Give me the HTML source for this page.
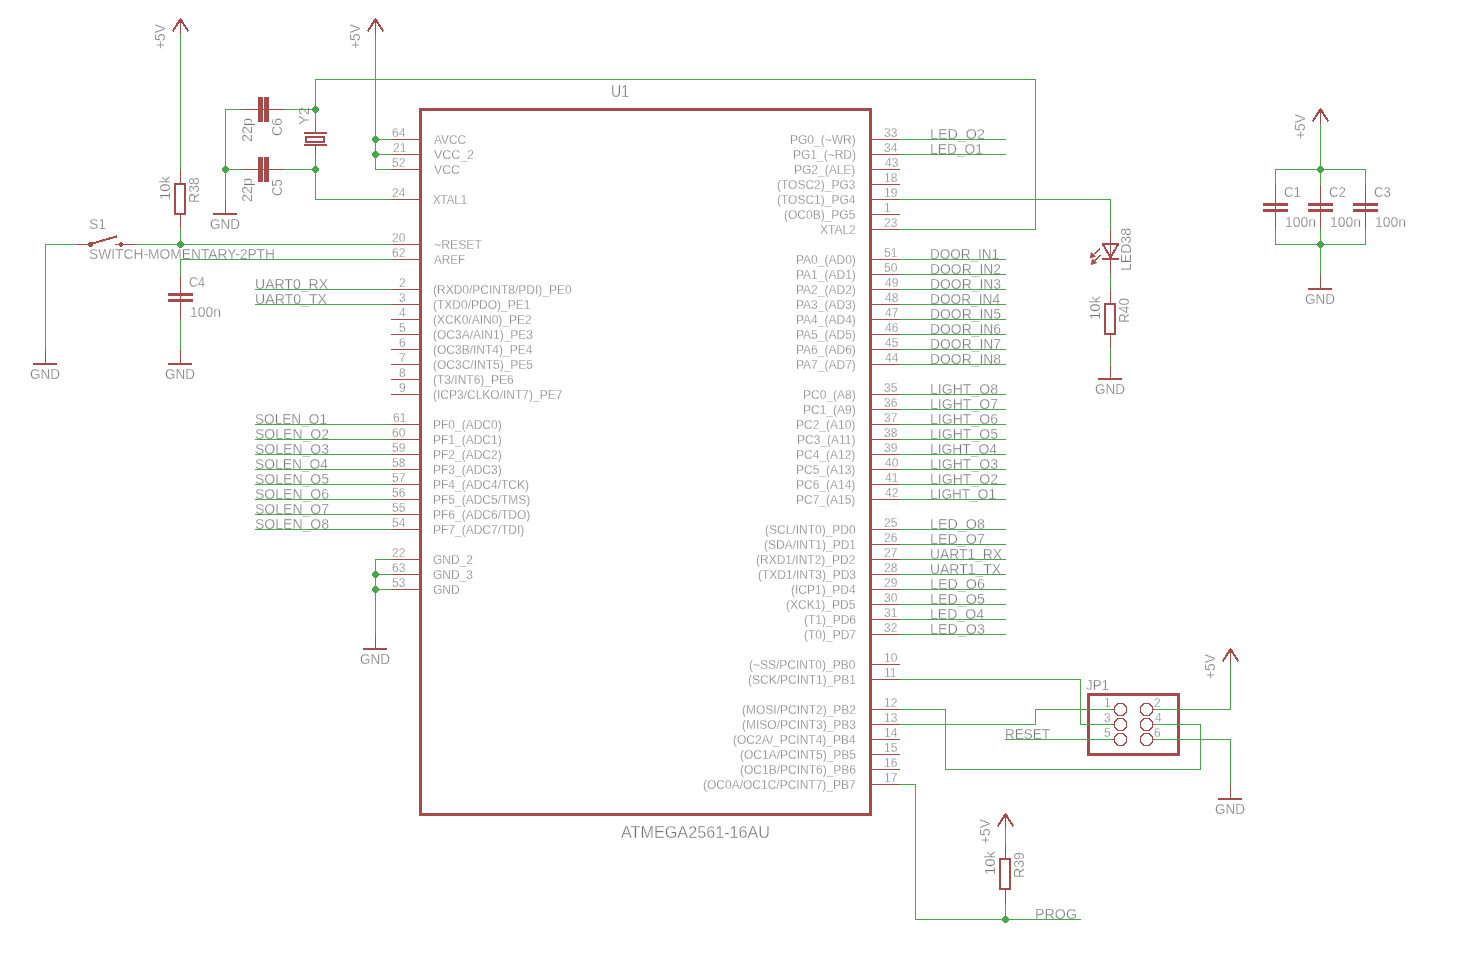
<!DOCTYPE html>
<html><head><meta charset="utf-8"><style>html,body{margin:0;padding:0;background:#fff;width:1474px;height:968px;overflow:hidden}svg{display:block;will-change:transform}text{font-family:"Liberation Sans",sans-serif}</style></head>
<body><svg width="1474" height="968" viewBox="0 0 1474 968"><rect width="1474" height="968" fill="#fff"/>
<g fill="#737373" stroke="#fff" stroke-width="0.3">
<text x="392" y="137" font-size="12">64</text>
<text x="434" y="144" font-size="12" textLength="32" lengthAdjust="spacingAndGlyphs">AVCC</text>
<text x="393" y="152" font-size="12">21</text>
<text x="434" y="159" font-size="12" textLength="40" lengthAdjust="spacingAndGlyphs">VCC_2</text>
<text x="392" y="167" font-size="12">52</text>
<text x="434" y="174" font-size="12" textLength="26" lengthAdjust="spacingAndGlyphs">VCC</text>
<text x="392" y="197" font-size="12">24</text>
<text x="433" y="204" font-size="12" textLength="34" lengthAdjust="spacingAndGlyphs">XTAL1</text>
<text x="392" y="242" font-size="12">20</text>
<text x="434" y="249" font-size="12" textLength="48" lengthAdjust="spacingAndGlyphs">~RESET</text>
<text x="392" y="257" font-size="12">62</text>
<text x="434" y="264" font-size="12" textLength="31" lengthAdjust="spacingAndGlyphs">AREF</text>
<text x="399" y="287" font-size="12">2</text>
<text x="433" y="294" font-size="12">(RXD0/PCINT8/PDI)_PE0</text>
<text x="399" y="302" font-size="12">3</text>
<text x="433" y="309" font-size="12">(TXD0/PDO)_PE1</text>
<text x="399" y="317" font-size="12">4</text>
<text x="433" y="324" font-size="12">(XCK0/AIN0)_PE2</text>
<text x="399" y="332" font-size="12">5</text>
<text x="433" y="339" font-size="12">(OC3A/AIN1)_PE3</text>
<text x="399" y="347" font-size="12">6</text>
<text x="433" y="354" font-size="12">(OC3B/INT4)_PE4</text>
<text x="399" y="362" font-size="12">7</text>
<text x="433" y="369" font-size="12">(OC3C/INT5)_PE5</text>
<text x="399" y="377" font-size="12">8</text>
<text x="433" y="384" font-size="12">(T3/INT6)_PE6</text>
<text x="399" y="392" font-size="12">9</text>
<text x="433" y="399" font-size="12">(ICP3/CLKO/INT7)_PE7</text>
<text x="393" y="422" font-size="12">61</text>
<text x="433" y="429" font-size="12">PF0_(ADC0)</text>
<text x="392" y="437" font-size="12">60</text>
<text x="433" y="444" font-size="12">PF1_(ADC1)</text>
<text x="392" y="452" font-size="12">59</text>
<text x="433" y="459" font-size="12">PF2_(ADC2)</text>
<text x="392" y="467" font-size="12">58</text>
<text x="433" y="474" font-size="12">PF3_(ADC3)</text>
<text x="392" y="482" font-size="12">57</text>
<text x="433" y="489" font-size="12">PF4_(ADC4/TCK)</text>
<text x="392" y="497" font-size="12">56</text>
<text x="433" y="504" font-size="12">PF5_(ADC5/TMS)</text>
<text x="392" y="512" font-size="12">55</text>
<text x="433" y="519" font-size="12">PF6_(ADC6/TDO)</text>
<text x="392" y="527" font-size="12">54</text>
<text x="433" y="534" font-size="12">PF7_(ADC7/TDI)</text>
<text x="392" y="557" font-size="12">22</text>
<text x="433" y="564" font-size="12">GND_2</text>
<text x="392" y="572" font-size="12">63</text>
<text x="433" y="579" font-size="12">GND_3</text>
<text x="392" y="587" font-size="12">53</text>
<text x="433" y="594" font-size="12">GND</text>
<text x="884" y="137" font-size="12">33</text>
<text x="790" y="144" font-size="12">PG0_(~WR)</text>
<text x="884" y="152" font-size="12">34</text>
<text x="793" y="159" font-size="12">PG1_(~RD)</text>
<text x="885" y="167" font-size="12">43</text>
<text x="794" y="174" font-size="12">PG2_(ALE)</text>
<text x="884" y="182" font-size="12">18</text>
<text x="777" y="189" font-size="12">(TOSC2)_PG3</text>
<text x="884" y="197" font-size="12">19</text>
<text x="777" y="204" font-size="12">(TOSC1)_PG4</text>
<text x="884" y="212" font-size="12">1</text>
<text x="784" y="219" font-size="12">(OC0B)_PG5</text>
<text x="884" y="227" font-size="12">23</text>
<text x="820" y="234" font-size="12">XTAL2</text>
<text x="884" y="257" font-size="12">51</text>
<text x="796" y="264" font-size="12">PA0_(AD0)</text>
<text x="884" y="272" font-size="12">50</text>
<text x="796" y="279" font-size="12">PA1_(AD1)</text>
<text x="885" y="287" font-size="12">49</text>
<text x="796" y="294" font-size="12">PA2_(AD2)</text>
<text x="885" y="302" font-size="12">48</text>
<text x="796" y="309" font-size="12">PA3_(AD3)</text>
<text x="885" y="317" font-size="12">47</text>
<text x="796" y="324" font-size="12">PA4_(AD4)</text>
<text x="885" y="332" font-size="12">46</text>
<text x="796" y="339" font-size="12">PA5_(AD5)</text>
<text x="885" y="347" font-size="12">45</text>
<text x="796" y="354" font-size="12">PA6_(AD6)</text>
<text x="885" y="362" font-size="12">44</text>
<text x="796" y="369" font-size="12">PA7_(AD7)</text>
<text x="884" y="392" font-size="12">35</text>
<text x="803" y="399" font-size="12">PC0_(A8)</text>
<text x="884" y="407" font-size="12">36</text>
<text x="803" y="414" font-size="12">PC1_(A9)</text>
<text x="884" y="422" font-size="12">37</text>
<text x="796" y="429" font-size="12">PC2_(A10)</text>
<text x="884" y="437" font-size="12">38</text>
<text x="797" y="444" font-size="12">PC3_(A11)</text>
<text x="884" y="452" font-size="12">39</text>
<text x="796" y="459" font-size="12">PC4_(A12)</text>
<text x="885" y="467" font-size="12">40</text>
<text x="796" y="474" font-size="12">PC5_(A13)</text>
<text x="885" y="482" font-size="12">41</text>
<text x="796" y="489" font-size="12">PC6_(A14)</text>
<text x="885" y="497" font-size="12">42</text>
<text x="796" y="504" font-size="12">PC7_(A15)</text>
<text x="884" y="527" font-size="12">25</text>
<text x="765" y="534" font-size="12">(SCL/INT0)_PD0</text>
<text x="884" y="542" font-size="12">26</text>
<text x="764" y="549" font-size="12">(SDA/INT1)_PD1</text>
<text x="884" y="557" font-size="12">27</text>
<text x="756" y="564" font-size="12">(RXD1/INT2)_PD2</text>
<text x="884" y="572" font-size="12">28</text>
<text x="758" y="579" font-size="12">(TXD1/INT3)_PD3</text>
<text x="884" y="587" font-size="12">29</text>
<text x="791" y="594" font-size="12">(ICP1)_PD4</text>
<text x="884" y="602" font-size="12">30</text>
<text x="786" y="609" font-size="12">(XCK1)_PD5</text>
<text x="884" y="617" font-size="12">31</text>
<text x="804" y="624" font-size="12">(T1)_PD6</text>
<text x="884" y="632" font-size="12">32</text>
<text x="804" y="639" font-size="12">(T0)_PD7</text>
<text x="884" y="662" font-size="12">10</text>
<text x="749" y="669" font-size="12">(~SS/PCINT0)_PB0</text>
<text x="884" y="677" font-size="12">11</text>
<text x="748" y="684" font-size="12">(SCK/PCINT1)_PB1</text>
<text x="884" y="707" font-size="12">12</text>
<text x="742" y="714" font-size="12">(MOSI/PCINT2)_PB2</text>
<text x="884" y="722" font-size="12">13</text>
<text x="742" y="729" font-size="12">(MISO/PCINT3)_PB3</text>
<text x="884" y="737" font-size="12">14</text>
<text x="733" y="744" font-size="12">(OC2A/_PCINT4)_PB4</text>
<text x="884" y="752" font-size="12">15</text>
<text x="740" y="759" font-size="12">(OC1A/PCINT5)_PB5</text>
<text x="884" y="767" font-size="12">16</text>
<text x="740" y="774" font-size="12">(OC1B/PCINT6)_PB6</text>
<text x="884" y="782" font-size="12">17</text>
<text x="703" y="789" font-size="12">(OC0A/OC1C/PCINT7)_PB7</text>
<text x="611" y="97" font-size="16" textLength="18" lengthAdjust="spacingAndGlyphs">U1</text>
<text x="621" y="838" font-size="16" textLength="149" lengthAdjust="spacingAndGlyphs">ATMEGA2561-16AU</text>
<text x="165" y="49" font-size="14" textLength="25" lengthAdjust="spacingAndGlyphs" transform="rotate(-90 165 49)">+5V</text>
<text x="360" y="49" font-size="14" textLength="25" lengthAdjust="spacingAndGlyphs" transform="rotate(-90 360 49)">+5V</text>
<text x="1305" y="139" font-size="14" textLength="25" lengthAdjust="spacingAndGlyphs" transform="rotate(-90 1305 139)">+5V</text>
<text x="1215" y="679" font-size="14" textLength="25" lengthAdjust="spacingAndGlyphs" transform="rotate(-90 1215 679)">+5V</text>
<text x="990" y="844" font-size="14" textLength="25" lengthAdjust="spacingAndGlyphs" transform="rotate(-90 990 844)">+5V</text>
<text x="30" y="379" font-size="14" textLength="30" lengthAdjust="spacingAndGlyphs">GND</text>
<text x="165" y="379" font-size="14" textLength="30" lengthAdjust="spacingAndGlyphs">GND</text>
<text x="210" y="229" font-size="14" textLength="30" lengthAdjust="spacingAndGlyphs">GND</text>
<text x="360" y="664" font-size="14" textLength="30" lengthAdjust="spacingAndGlyphs">GND</text>
<text x="1095" y="394" font-size="14" textLength="30" lengthAdjust="spacingAndGlyphs">GND</text>
<text x="1305" y="304" font-size="14" textLength="30" lengthAdjust="spacingAndGlyphs">GND</text>
<text x="1215" y="814" font-size="14" textLength="30" lengthAdjust="spacingAndGlyphs">GND</text>
<text x="170" y="200" font-size="14" textLength="24" lengthAdjust="spacingAndGlyphs" transform="rotate(-90 170 200)">10k</text>
<text x="199" y="203" font-size="14" textLength="26" lengthAdjust="spacingAndGlyphs" transform="rotate(-90 199 203)">R38</text>
<text x="1100" y="320" font-size="14" textLength="24" lengthAdjust="spacingAndGlyphs" transform="rotate(-90 1100 320)">10k</text>
<text x="1129" y="323" font-size="14" textLength="25" lengthAdjust="spacingAndGlyphs" transform="rotate(-90 1129 323)">R40</text>
<text x="995" y="875" font-size="14" textLength="24" lengthAdjust="spacingAndGlyphs" transform="rotate(-90 995 875)">10k</text>
<text x="1024" y="878" font-size="14" textLength="26" lengthAdjust="spacingAndGlyphs" transform="rotate(-90 1024 878)">R39</text>
<text x="189" y="287" font-size="14" textLength="16" lengthAdjust="spacingAndGlyphs">C4</text>
<text x="190" y="317" font-size="14" textLength="31" lengthAdjust="spacingAndGlyphs">100n</text>
<text x="1284" y="197" font-size="14" textLength="17" lengthAdjust="spacingAndGlyphs">C1</text>
<text x="1285" y="227" font-size="14" textLength="31" lengthAdjust="spacingAndGlyphs">100n</text>
<text x="1329" y="197" font-size="14" textLength="17" lengthAdjust="spacingAndGlyphs">C2</text>
<text x="1330" y="227" font-size="14" textLength="31" lengthAdjust="spacingAndGlyphs">100n</text>
<text x="1374" y="197" font-size="14" textLength="17" lengthAdjust="spacingAndGlyphs">C3</text>
<text x="1375" y="227" font-size="14" textLength="31" lengthAdjust="spacingAndGlyphs">100n</text>
<text x="252" y="142" font-size="14" textLength="24" lengthAdjust="spacingAndGlyphs" transform="rotate(-90 252 142)">22p</text>
<text x="282" y="136" font-size="14" textLength="18" lengthAdjust="spacingAndGlyphs" transform="rotate(-90 282 136)">C6</text>
<text x="252" y="202" font-size="14" textLength="24" lengthAdjust="spacingAndGlyphs" transform="rotate(-90 252 202)">22p</text>
<text x="282" y="196" font-size="14" textLength="17" lengthAdjust="spacingAndGlyphs" transform="rotate(-90 282 196)">C5</text>
<text x="309" y="125" font-size="14" textLength="18" lengthAdjust="spacingAndGlyphs" transform="rotate(-90 309 125)">Y2</text>
<text x="1131" y="271" font-size="14" textLength="43" lengthAdjust="spacingAndGlyphs" transform="rotate(-90 1131 271)">LED38</text>
<text x="89" y="229" font-size="14" textLength="17" lengthAdjust="spacingAndGlyphs">S1</text>
<text x="89" y="259" font-size="14" textLength="186" lengthAdjust="spacingAndGlyphs">SWITCH-MOMENTARY-2PTH</text>
<text x="1104" y="707" font-size="12">1</text>
<text x="1154" y="707" font-size="12">2</text>
<text x="1104" y="722" font-size="12">3</text>
<text x="1155" y="722" font-size="12">4</text>
<text x="1104" y="737" font-size="12">5</text>
<text x="1154" y="737" font-size="12">6</text>
<text x="1086" y="690" font-size="14" textLength="23" lengthAdjust="spacingAndGlyphs">JP1</text>
<text x="255" y="289" font-size="14" textLength="73" lengthAdjust="spacingAndGlyphs">UART0_RX</text>
<text x="255" y="304" font-size="14" textLength="72" lengthAdjust="spacingAndGlyphs">UART0_TX</text>
<text x="255" y="424" font-size="14" textLength="72" lengthAdjust="spacingAndGlyphs">SOLEN_O1</text>
<text x="255" y="439" font-size="14" textLength="74" lengthAdjust="spacingAndGlyphs">SOLEN_O2</text>
<text x="255" y="454" font-size="14" textLength="74" lengthAdjust="spacingAndGlyphs">SOLEN_O3</text>
<text x="255" y="469" font-size="14" textLength="73" lengthAdjust="spacingAndGlyphs">SOLEN_O4</text>
<text x="255" y="484" font-size="14" textLength="74" lengthAdjust="spacingAndGlyphs">SOLEN_O5</text>
<text x="255" y="499" font-size="14" textLength="74" lengthAdjust="spacingAndGlyphs">SOLEN_O6</text>
<text x="255" y="514" font-size="14" textLength="74" lengthAdjust="spacingAndGlyphs">SOLEN_O7</text>
<text x="255" y="529" font-size="14" textLength="74" lengthAdjust="spacingAndGlyphs">SOLEN_O8</text>
<text x="930" y="139" font-size="14" textLength="55" lengthAdjust="spacingAndGlyphs">LED_O2</text>
<text x="930" y="154" font-size="14" textLength="53" lengthAdjust="spacingAndGlyphs">LED_O1</text>
<text x="930" y="259" font-size="14" textLength="69" lengthAdjust="spacingAndGlyphs">DOOR_IN1</text>
<text x="930" y="274" font-size="14" textLength="71" lengthAdjust="spacingAndGlyphs">DOOR_IN2</text>
<text x="930" y="289" font-size="14" textLength="71" lengthAdjust="spacingAndGlyphs">DOOR_IN3</text>
<text x="930" y="304" font-size="14" textLength="70" lengthAdjust="spacingAndGlyphs">DOOR_IN4</text>
<text x="930" y="319" font-size="14" textLength="71" lengthAdjust="spacingAndGlyphs">DOOR_IN5</text>
<text x="930" y="334" font-size="14" textLength="71" lengthAdjust="spacingAndGlyphs">DOOR_IN6</text>
<text x="930" y="349" font-size="14" textLength="71" lengthAdjust="spacingAndGlyphs">DOOR_IN7</text>
<text x="930" y="364" font-size="14" textLength="71" lengthAdjust="spacingAndGlyphs">DOOR_IN8</text>
<text x="930" y="394" font-size="14" textLength="68" lengthAdjust="spacingAndGlyphs">LIGHT_O8</text>
<text x="930" y="409" font-size="14" textLength="68" lengthAdjust="spacingAndGlyphs">LIGHT_O7</text>
<text x="930" y="424" font-size="14" textLength="68" lengthAdjust="spacingAndGlyphs">LIGHT_O6</text>
<text x="930" y="439" font-size="14" textLength="68" lengthAdjust="spacingAndGlyphs">LIGHT_O5</text>
<text x="930" y="454" font-size="14" textLength="67" lengthAdjust="spacingAndGlyphs">LIGHT_O4</text>
<text x="930" y="469" font-size="14" textLength="68" lengthAdjust="spacingAndGlyphs">LIGHT_O3</text>
<text x="930" y="484" font-size="14" textLength="68" lengthAdjust="spacingAndGlyphs">LIGHT_O2</text>
<text x="930" y="499" font-size="14" textLength="66" lengthAdjust="spacingAndGlyphs">LIGHT_O1</text>
<text x="930" y="529" font-size="14" textLength="55" lengthAdjust="spacingAndGlyphs">LED_O8</text>
<text x="930" y="544" font-size="14" textLength="55" lengthAdjust="spacingAndGlyphs">LED_O7</text>
<text x="930" y="559" font-size="14" textLength="72" lengthAdjust="spacingAndGlyphs">UART1_RX</text>
<text x="930" y="574" font-size="14" textLength="71" lengthAdjust="spacingAndGlyphs">UART1_TX</text>
<text x="930" y="589" font-size="14" textLength="55" lengthAdjust="spacingAndGlyphs">LED_O6</text>
<text x="930" y="604" font-size="14" textLength="55" lengthAdjust="spacingAndGlyphs">LED_O5</text>
<text x="930" y="619" font-size="14" textLength="54" lengthAdjust="spacingAndGlyphs">LED_O4</text>
<text x="930" y="634" font-size="14" textLength="55" lengthAdjust="spacingAndGlyphs">LED_O3</text>
<text x="1005" y="739" font-size="14" textLength="45" lengthAdjust="spacingAndGlyphs">RESET</text>
<text x="1035" y="919" font-size="14" textLength="42" lengthAdjust="spacingAndGlyphs">PROG</text>
</g>
<g shape-rendering="crispEdges">
<rect x="420" y="109" width="450" height="705" fill="none" stroke="#A54B4B" stroke-width="3"/>
<rect x="391" y="139" width="29" height="1" fill="#A54B4B"/>
<rect x="391" y="154" width="29" height="1" fill="#A54B4B"/>
<rect x="391" y="169" width="29" height="1" fill="#A54B4B"/>
<rect x="391" y="199" width="29" height="1" fill="#A54B4B"/>
<rect x="391" y="244" width="29" height="1" fill="#A54B4B"/>
<rect x="391" y="259" width="29" height="1" fill="#A54B4B"/>
<rect x="391" y="289" width="29" height="1" fill="#A54B4B"/>
<rect x="391" y="304" width="29" height="1" fill="#A54B4B"/>
<rect x="391" y="319" width="29" height="1" fill="#A54B4B"/>
<rect x="391" y="334" width="29" height="1" fill="#A54B4B"/>
<rect x="391" y="349" width="29" height="1" fill="#A54B4B"/>
<rect x="391" y="364" width="29" height="1" fill="#A54B4B"/>
<rect x="391" y="379" width="29" height="1" fill="#A54B4B"/>
<rect x="391" y="394" width="29" height="1" fill="#A54B4B"/>
<rect x="391" y="424" width="29" height="1" fill="#A54B4B"/>
<rect x="391" y="439" width="29" height="1" fill="#A54B4B"/>
<rect x="391" y="454" width="29" height="1" fill="#A54B4B"/>
<rect x="391" y="469" width="29" height="1" fill="#A54B4B"/>
<rect x="391" y="484" width="29" height="1" fill="#A54B4B"/>
<rect x="391" y="499" width="29" height="1" fill="#A54B4B"/>
<rect x="391" y="514" width="29" height="1" fill="#A54B4B"/>
<rect x="391" y="529" width="29" height="1" fill="#A54B4B"/>
<rect x="391" y="559" width="29" height="1" fill="#A54B4B"/>
<rect x="391" y="574" width="29" height="1" fill="#A54B4B"/>
<rect x="391" y="589" width="29" height="1" fill="#A54B4B"/>
<rect x="872" y="139" width="28" height="1" fill="#A54B4B"/>
<rect x="872" y="154" width="28" height="1" fill="#A54B4B"/>
<rect x="872" y="169" width="28" height="1" fill="#A54B4B"/>
<rect x="872" y="184" width="28" height="1" fill="#A54B4B"/>
<rect x="872" y="199" width="28" height="1" fill="#A54B4B"/>
<rect x="872" y="214" width="28" height="1" fill="#A54B4B"/>
<rect x="872" y="229" width="28" height="1" fill="#A54B4B"/>
<rect x="872" y="259" width="28" height="1" fill="#A54B4B"/>
<rect x="872" y="274" width="28" height="1" fill="#A54B4B"/>
<rect x="872" y="289" width="28" height="1" fill="#A54B4B"/>
<rect x="872" y="304" width="28" height="1" fill="#A54B4B"/>
<rect x="872" y="319" width="28" height="1" fill="#A54B4B"/>
<rect x="872" y="334" width="28" height="1" fill="#A54B4B"/>
<rect x="872" y="349" width="28" height="1" fill="#A54B4B"/>
<rect x="872" y="364" width="28" height="1" fill="#A54B4B"/>
<rect x="872" y="394" width="28" height="1" fill="#A54B4B"/>
<rect x="872" y="409" width="28" height="1" fill="#A54B4B"/>
<rect x="872" y="424" width="28" height="1" fill="#A54B4B"/>
<rect x="872" y="439" width="28" height="1" fill="#A54B4B"/>
<rect x="872" y="454" width="28" height="1" fill="#A54B4B"/>
<rect x="872" y="469" width="28" height="1" fill="#A54B4B"/>
<rect x="872" y="484" width="28" height="1" fill="#A54B4B"/>
<rect x="872" y="499" width="28" height="1" fill="#A54B4B"/>
<rect x="872" y="529" width="28" height="1" fill="#A54B4B"/>
<rect x="872" y="544" width="28" height="1" fill="#A54B4B"/>
<rect x="872" y="559" width="28" height="1" fill="#A54B4B"/>
<rect x="872" y="574" width="28" height="1" fill="#A54B4B"/>
<rect x="872" y="589" width="28" height="1" fill="#A54B4B"/>
<rect x="872" y="604" width="28" height="1" fill="#A54B4B"/>
<rect x="872" y="619" width="28" height="1" fill="#A54B4B"/>
<rect x="872" y="634" width="28" height="1" fill="#A54B4B"/>
<rect x="872" y="664" width="28" height="1" fill="#A54B4B"/>
<rect x="872" y="679" width="28" height="1" fill="#A54B4B"/>
<rect x="872" y="709" width="28" height="1" fill="#A54B4B"/>
<rect x="872" y="724" width="28" height="1" fill="#A54B4B"/>
<rect x="872" y="739" width="28" height="1" fill="#A54B4B"/>
<rect x="872" y="754" width="28" height="1" fill="#A54B4B"/>
<rect x="872" y="769" width="28" height="1" fill="#A54B4B"/>
<rect x="872" y="784" width="28" height="1" fill="#A54B4B"/>
<rect x="180" y="19" width="1" height="16" fill="#A54B4B"/>
<polyline points="172.5,31.5 180.5,19.2 188.5,31.5" fill="none" stroke="#A54B4B" stroke-width="2" stroke-linejoin="round"/>
<rect x="375" y="19" width="1" height="16" fill="#A54B4B"/>
<polyline points="367.5,31.5 375.5,19.2 383.5,31.5" fill="none" stroke="#A54B4B" stroke-width="2" stroke-linejoin="round"/>
<rect x="1320" y="109" width="1" height="16" fill="#A54B4B"/>
<polyline points="1312.5,121.5 1320.5,109.2 1328.5,121.5" fill="none" stroke="#A54B4B" stroke-width="2" stroke-linejoin="round"/>
<rect x="1230" y="649" width="1" height="16" fill="#A54B4B"/>
<polyline points="1222.5,661.5 1230.5,649.2 1238.5,661.5" fill="none" stroke="#A54B4B" stroke-width="2" stroke-linejoin="round"/>
<rect x="1005" y="814" width="1" height="16" fill="#A54B4B"/>
<polyline points="997.5,826.5 1005.5,814.2 1013.5,826.5" fill="none" stroke="#A54B4B" stroke-width="2" stroke-linejoin="round"/>
<rect x="45" y="349" width="1" height="15" fill="#A54B4B"/>
<rect x="33" y="363" width="24" height="2" fill="#A54B4B"/>
<rect x="180" y="349" width="1" height="15" fill="#A54B4B"/>
<rect x="168" y="363" width="24" height="2" fill="#A54B4B"/>
<rect x="225" y="199" width="1" height="15" fill="#A54B4B"/>
<rect x="213" y="213" width="24" height="2" fill="#A54B4B"/>
<rect x="375" y="634" width="1" height="15" fill="#A54B4B"/>
<rect x="363" y="648" width="24" height="2" fill="#A54B4B"/>
<rect x="1110" y="364" width="1" height="15" fill="#A54B4B"/>
<rect x="1098" y="378" width="24" height="2" fill="#A54B4B"/>
<rect x="1320" y="274" width="1" height="15" fill="#A54B4B"/>
<rect x="1308" y="288" width="24" height="2" fill="#A54B4B"/>
<rect x="1230" y="784" width="1" height="15" fill="#A54B4B"/>
<rect x="1218" y="798" width="24" height="2" fill="#A54B4B"/>
<rect x="180" y="169" width="1" height="61" fill="#A54B4B"/>
<rect x="175" y="184" width="10" height="30" fill="#fff" stroke="#A54B4B" stroke-width="2"/>
<rect x="1110" y="289" width="1" height="61" fill="#A54B4B"/>
<rect x="1105" y="304" width="10" height="30" fill="#fff" stroke="#A54B4B" stroke-width="2"/>
<rect x="1005" y="844" width="1" height="61" fill="#A54B4B"/>
<rect x="1000" y="859" width="10" height="30" fill="#fff" stroke="#A54B4B" stroke-width="2"/>
<rect x="180" y="274" width="1" height="46" fill="#A54B4B"/>
<rect x="168" y="293" width="25" height="3" fill="#A54B4B"/>
<rect x="168" y="299" width="25" height="3" fill="#A54B4B"/>
<rect x="1275" y="184" width="1" height="46" fill="#A54B4B"/>
<rect x="1263" y="203" width="25" height="3" fill="#A54B4B"/>
<rect x="1263" y="209" width="25" height="3" fill="#A54B4B"/>
<rect x="1320" y="184" width="1" height="46" fill="#A54B4B"/>
<rect x="1308" y="203" width="25" height="3" fill="#A54B4B"/>
<rect x="1308" y="209" width="25" height="3" fill="#A54B4B"/>
<rect x="1365" y="184" width="1" height="46" fill="#A54B4B"/>
<rect x="1353" y="203" width="25" height="3" fill="#A54B4B"/>
<rect x="1353" y="209" width="25" height="3" fill="#A54B4B"/>
<rect x="240" y="109" width="46" height="1" fill="#A54B4B"/>
<rect x="258" y="97" width="5" height="25" fill="#A54B4B"/>
<rect x="264" y="97" width="5" height="25" fill="#A54B4B"/>
<rect x="240" y="169" width="46" height="1" fill="#A54B4B"/>
<rect x="258" y="157" width="5" height="25" fill="#A54B4B"/>
<rect x="264" y="157" width="5" height="25" fill="#A54B4B"/>
<rect x="315" y="124" width="1" height="8" fill="#A54B4B"/>
<rect x="304" y="132" width="23" height="2" fill="#A54B4B"/>
<rect x="306" y="137" width="18" height="5" fill="none" stroke="#A54B4B" stroke-width="2"/>
<rect x="304" y="144" width="23" height="2" fill="#A54B4B"/>
<rect x="315" y="146" width="1" height="9" fill="#A54B4B"/>
<rect x="1110" y="229" width="1" height="46" fill="#A54B4B"/>
<rect x="1102" y="243" width="17" height="2" fill="#A54B4B"/>
<rect x="1102" y="258" width="17" height="2" fill="#A54B4B"/>
<line x1="1103" y1="244.5" x2="1110.5" y2="257.5" stroke="#A54B4B" stroke-width="2" stroke-linecap="round"/>
<line x1="1118" y1="244.5" x2="1110.5" y2="257.5" stroke="#A54B4B" stroke-width="2" stroke-linecap="round"/>
<line x1="1099.5" y1="249" x2="1093.5355339059327" y2="254.46446609406726" stroke="#A54B4B" stroke-width="1.3" stroke-linecap="round"/>
<polygon points="1090.00,258.00 1095.52,256.44 1091.56,252.48" fill="#A54B4B" stroke="#A54B4B" stroke-width="0.8" shape-rendering="auto"/>
<line x1="1100" y1="255.5" x2="1094.5355339059327" y2="260.9644660940673" stroke="#A54B4B" stroke-width="1.3" stroke-linecap="round"/>
<polygon points="1091.00,264.50 1096.52,262.94 1092.56,258.98" fill="#A54B4B" stroke="#A54B4B" stroke-width="0.8" shape-rendering="auto"/>
<rect x="75" y="244" width="15" height="1" fill="#A54B4B"/>
<rect x="121" y="244" width="15" height="1" fill="#A54B4B"/>
<circle cx="90.5" cy="244.5" r="2.6" fill="#A54B4B"/>
<circle cx="121" cy="244.5" r="2.4" fill="#A54B4B"/>
<line x1="116" y1="244.5" x2="120" y2="244.5" stroke="#A54B4B" stroke-width="1.5" stroke-linecap="round"/>
<line x1="90.5" y1="244" x2="116.5" y2="236.5" stroke="#A54B4B" stroke-width="2" stroke-linecap="round"/>
<rect x="1088" y="694" width="90" height="60" fill="none" stroke="#A54B4B" stroke-width="3"/>
<rect x="1110" y="709" width="5" height="1" fill="#A54B4B"/>
<rect x="1152" y="709" width="4" height="1" fill="#A54B4B"/>
<polygon points="1126.60,712.03 1123.03,715.60 1117.97,715.60 1114.40,712.03 1114.40,706.97 1117.97,703.40 1123.03,703.40 1126.60,706.97" fill="none" stroke="#A54B4B" stroke-width="1"/>
<polygon points="1152.60,712.03 1149.03,715.60 1143.97,715.60 1140.40,712.03 1140.40,706.97 1143.97,703.40 1149.03,703.40 1152.60,706.97" fill="none" stroke="#A54B4B" stroke-width="1"/>
<rect x="1110" y="724" width="5" height="1" fill="#A54B4B"/>
<rect x="1152" y="724" width="4" height="1" fill="#A54B4B"/>
<polygon points="1126.60,727.03 1123.03,730.60 1117.97,730.60 1114.40,727.03 1114.40,721.97 1117.97,718.40 1123.03,718.40 1126.60,721.97" fill="none" stroke="#A54B4B" stroke-width="1"/>
<polygon points="1152.60,727.03 1149.03,730.60 1143.97,730.60 1140.40,727.03 1140.40,721.97 1143.97,718.40 1149.03,718.40 1152.60,721.97" fill="none" stroke="#A54B4B" stroke-width="1"/>
<rect x="1110" y="739" width="5" height="1" fill="#A54B4B"/>
<rect x="1152" y="739" width="4" height="1" fill="#A54B4B"/>
<polygon points="1126.60,742.03 1123.03,745.60 1117.97,745.60 1114.40,742.03 1114.40,736.97 1117.97,733.40 1123.03,733.40 1126.60,736.97" fill="none" stroke="#A54B4B" stroke-width="1"/>
<polygon points="1152.60,742.03 1149.03,745.60 1143.97,745.60 1140.40,742.03 1140.40,736.97 1143.97,733.40 1149.03,733.40 1152.60,736.97" fill="none" stroke="#A54B4B" stroke-width="1"/>
<rect x="180" y="34" width="1" height="136" fill="#4BA54B"/>
<rect x="180" y="229" width="1" height="16" fill="#4BA54B"/>
<rect x="45" y="244" width="1" height="106" fill="#4BA54B"/>
<rect x="45" y="244" width="31" height="1" fill="#4BA54B"/>
<rect x="135" y="244" width="256" height="1" fill="#4BA54B"/>
<rect x="180" y="259" width="211" height="1" fill="#4BA54B"/>
<rect x="180" y="259" width="1" height="16" fill="#4BA54B"/>
<rect x="180" y="319" width="1" height="31" fill="#4BA54B"/>
<rect x="225" y="109" width="16" height="1" fill="#4BA54B"/>
<rect x="225" y="109" width="1" height="91" fill="#4BA54B"/>
<rect x="225" y="169" width="16" height="1" fill="#4BA54B"/>
<rect x="285" y="109" width="31" height="1" fill="#4BA54B"/>
<rect x="285" y="169" width="31" height="1" fill="#4BA54B"/>
<rect x="315" y="109" width="1" height="16" fill="#4BA54B"/>
<rect x="315" y="79" width="1" height="31" fill="#4BA54B"/>
<rect x="315" y="79" width="721" height="1" fill="#4BA54B"/>
<rect x="1035" y="79" width="1" height="151" fill="#4BA54B"/>
<rect x="900" y="229" width="136" height="1" fill="#4BA54B"/>
<rect x="315" y="154" width="1" height="46" fill="#4BA54B"/>
<rect x="315" y="199" width="76" height="1" fill="#4BA54B"/>
<rect x="375" y="34" width="1" height="136" fill="#4BA54B"/>
<rect x="375" y="169" width="16" height="1" fill="#4BA54B"/>
<rect x="375" y="139" width="16" height="1" fill="#4BA54B"/>
<rect x="375" y="154" width="16" height="1" fill="#4BA54B"/>
<rect x="375" y="559" width="16" height="1" fill="#4BA54B"/>
<rect x="375" y="559" width="1" height="76" fill="#4BA54B"/>
<rect x="375" y="574" width="16" height="1" fill="#4BA54B"/>
<rect x="375" y="589" width="16" height="1" fill="#4BA54B"/>
<rect x="255" y="289" width="136" height="1" fill="#4BA54B"/>
<rect x="255" y="304" width="136" height="1" fill="#4BA54B"/>
<rect x="255" y="424" width="136" height="1" fill="#4BA54B"/>
<rect x="255" y="439" width="136" height="1" fill="#4BA54B"/>
<rect x="255" y="454" width="136" height="1" fill="#4BA54B"/>
<rect x="255" y="469" width="136" height="1" fill="#4BA54B"/>
<rect x="255" y="484" width="136" height="1" fill="#4BA54B"/>
<rect x="255" y="499" width="136" height="1" fill="#4BA54B"/>
<rect x="255" y="514" width="136" height="1" fill="#4BA54B"/>
<rect x="255" y="529" width="136" height="1" fill="#4BA54B"/>
<rect x="900" y="139" width="106" height="1" fill="#4BA54B"/>
<rect x="900" y="154" width="106" height="1" fill="#4BA54B"/>
<rect x="900" y="259" width="106" height="1" fill="#4BA54B"/>
<rect x="900" y="274" width="106" height="1" fill="#4BA54B"/>
<rect x="900" y="289" width="106" height="1" fill="#4BA54B"/>
<rect x="900" y="304" width="106" height="1" fill="#4BA54B"/>
<rect x="900" y="319" width="106" height="1" fill="#4BA54B"/>
<rect x="900" y="334" width="106" height="1" fill="#4BA54B"/>
<rect x="900" y="349" width="106" height="1" fill="#4BA54B"/>
<rect x="900" y="364" width="106" height="1" fill="#4BA54B"/>
<rect x="900" y="394" width="106" height="1" fill="#4BA54B"/>
<rect x="900" y="409" width="106" height="1" fill="#4BA54B"/>
<rect x="900" y="424" width="106" height="1" fill="#4BA54B"/>
<rect x="900" y="439" width="106" height="1" fill="#4BA54B"/>
<rect x="900" y="454" width="106" height="1" fill="#4BA54B"/>
<rect x="900" y="469" width="106" height="1" fill="#4BA54B"/>
<rect x="900" y="484" width="106" height="1" fill="#4BA54B"/>
<rect x="900" y="499" width="106" height="1" fill="#4BA54B"/>
<rect x="900" y="529" width="106" height="1" fill="#4BA54B"/>
<rect x="900" y="544" width="106" height="1" fill="#4BA54B"/>
<rect x="900" y="559" width="106" height="1" fill="#4BA54B"/>
<rect x="900" y="574" width="106" height="1" fill="#4BA54B"/>
<rect x="900" y="589" width="106" height="1" fill="#4BA54B"/>
<rect x="900" y="604" width="106" height="1" fill="#4BA54B"/>
<rect x="900" y="619" width="106" height="1" fill="#4BA54B"/>
<rect x="900" y="634" width="106" height="1" fill="#4BA54B"/>
<rect x="900" y="199" width="211" height="1" fill="#4BA54B"/>
<rect x="1110" y="199" width="1" height="31" fill="#4BA54B"/>
<rect x="1110" y="274" width="1" height="16" fill="#4BA54B"/>
<rect x="1110" y="349" width="1" height="16" fill="#4BA54B"/>
<rect x="900" y="679" width="181" height="1" fill="#4BA54B"/>
<rect x="1080" y="679" width="1" height="46" fill="#4BA54B"/>
<rect x="1080" y="724" width="31" height="1" fill="#4BA54B"/>
<rect x="900" y="709" width="46" height="1" fill="#4BA54B"/>
<rect x="945" y="709" width="1" height="61" fill="#4BA54B"/>
<rect x="945" y="769" width="256" height="1" fill="#4BA54B"/>
<rect x="1200" y="724" width="1" height="46" fill="#4BA54B"/>
<rect x="1155" y="724" width="46" height="1" fill="#4BA54B"/>
<rect x="900" y="724" width="136" height="1" fill="#4BA54B"/>
<rect x="1035" y="709" width="1" height="16" fill="#4BA54B"/>
<rect x="1035" y="709" width="76" height="1" fill="#4BA54B"/>
<rect x="1005" y="739" width="106" height="1" fill="#4BA54B"/>
<rect x="1155" y="709" width="76" height="1" fill="#4BA54B"/>
<rect x="1230" y="664" width="1" height="46" fill="#4BA54B"/>
<rect x="1155" y="739" width="76" height="1" fill="#4BA54B"/>
<rect x="1230" y="739" width="1" height="46" fill="#4BA54B"/>
<rect x="900" y="784" width="16" height="1" fill="#4BA54B"/>
<rect x="915" y="784" width="1" height="136" fill="#4BA54B"/>
<rect x="915" y="919" width="166" height="1" fill="#4BA54B"/>
<rect x="1005" y="904" width="1" height="16" fill="#4BA54B"/>
<rect x="1005" y="829" width="1" height="16" fill="#4BA54B"/>
<rect x="1320" y="124" width="1" height="46" fill="#4BA54B"/>
<rect x="1275" y="169" width="1" height="16" fill="#4BA54B"/>
<rect x="1275" y="169" width="91" height="1" fill="#4BA54B"/>
<rect x="1365" y="169" width="1" height="16" fill="#4BA54B"/>
<rect x="1320" y="169" width="1" height="16" fill="#4BA54B"/>
<rect x="1275" y="229" width="1" height="16" fill="#4BA54B"/>
<rect x="1275" y="244" width="91" height="1" fill="#4BA54B"/>
<rect x="1365" y="229" width="1" height="16" fill="#4BA54B"/>
<rect x="1320" y="229" width="1" height="46" fill="#4BA54B"/>
<polygon points="184.01,245.95 181.95,248.01 179.05,248.01 176.99,245.95 176.99,243.05 179.05,240.99 181.95,240.99 184.01,243.05" fill="#4BA54B"/>
<polygon points="229.01,170.95 226.95,173.01 224.05,173.01 221.99,170.95 221.99,168.05 224.05,165.99 226.95,165.99 229.01,168.05" fill="#4BA54B"/>
<polygon points="319.01,110.95 316.95,113.01 314.05,113.01 311.99,110.95 311.99,108.05 314.05,105.99 316.95,105.99 319.01,108.05" fill="#4BA54B"/>
<polygon points="319.01,170.95 316.95,173.01 314.05,173.01 311.99,170.95 311.99,168.05 314.05,165.99 316.95,165.99 319.01,168.05" fill="#4BA54B"/>
<polygon points="379.01,140.95 376.95,143.01 374.05,143.01 371.99,140.95 371.99,138.05 374.05,135.99 376.95,135.99 379.01,138.05" fill="#4BA54B"/>
<polygon points="379.01,155.95 376.95,158.01 374.05,158.01 371.99,155.95 371.99,153.05 374.05,150.99 376.95,150.99 379.01,153.05" fill="#4BA54B"/>
<polygon points="379.01,575.95 376.95,578.01 374.05,578.01 371.99,575.95 371.99,573.05 374.05,570.99 376.95,570.99 379.01,573.05" fill="#4BA54B"/>
<polygon points="379.01,590.95 376.95,593.01 374.05,593.01 371.99,590.95 371.99,588.05 374.05,585.99 376.95,585.99 379.01,588.05" fill="#4BA54B"/>
<polygon points="1324.01,170.95 1321.95,173.01 1319.05,173.01 1316.99,170.95 1316.99,168.05 1319.05,165.99 1321.95,165.99 1324.01,168.05" fill="#4BA54B"/>
<polygon points="1324.01,245.95 1321.95,248.01 1319.05,248.01 1316.99,245.95 1316.99,243.05 1319.05,240.99 1321.95,240.99 1324.01,243.05" fill="#4BA54B"/>
<polygon points="1009.01,920.95 1006.95,923.01 1004.05,923.01 1001.99,920.95 1001.99,918.05 1004.05,915.99 1006.95,915.99 1009.01,918.05" fill="#4BA54B"/>
</g></svg></body></html>
